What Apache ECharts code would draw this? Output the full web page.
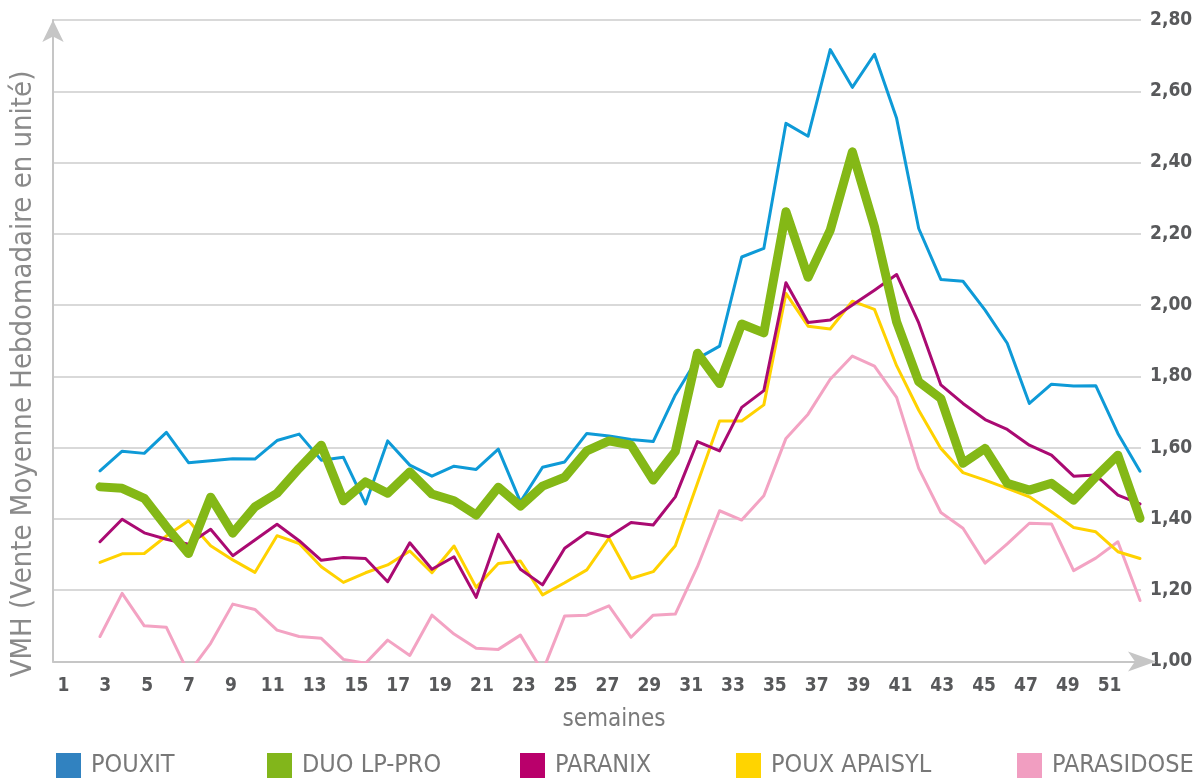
<!DOCTYPE html>
<html>
<head>
<meta charset="utf-8">
<script src="https://cdn.jsdelivr.net/npm/echarts@6.0.0/dist/echarts.min.js"></script>
<style>
    html, body { margin: 0; padding: 0; background: #fff; }
    #chart { width: 1197px; height: 782px; }
</style>
</head>
<body>
<div id="chart"></div>
<script>
    // graduations de l'axe des semaines
    var weekLabels = ['1','2','3','4','5','6','7','8','9','10','11','12','13','14','15','16','17','18','19','20',
        '21','22','23','24','25','26','27','28','29','30','31','32','33','34','35','36','37','38','39','40',
        '41','42','43','44','45','46','47','48','49','50','51','52'];
    // relevés (48 points)
    var pointWeeks = ['3','4','5','6','7','8','9','10','11','12','13','14','15','16','17','18','19','20','21','22',
        '23','24','25','26','27','28','29','30','31','32','33','34','35','36','37','38','39','40','41','42',
        '43','44','45','46','47','48','49','50'];

    var pouxit = [1.535, 1.590, 1.584, 1.643, 1.558, 1.563, 1.569, 1.568, 1.620, 1.638,
        1.565, 1.573, 1.442, 1.619, 1.551, 1.520, 1.548, 1.539, 1.596, 1.448,
        1.545, 1.560, 1.640, 1.633, 1.623, 1.617, 1.748, 1.850, 1.885, 2.135,
        2.159, 2.510, 2.474, 2.717, 2.611, 2.704, 2.524, 2.215, 2.072, 2.067,
        1.986, 1.893, 1.724, 1.778, 1.773, 1.774, 1.640, 1.534];
    var duoLpPro = [1.490, 1.486, 1.458, 1.378, 1.303, 1.461, 1.360, 1.434, 1.472, 1.542,
        1.607, 1.451, 1.504, 1.472, 1.532, 1.470, 1.451, 1.411, 1.489, 1.436,
        1.492, 1.517, 1.591, 1.619, 1.607, 1.509, 1.589, 1.865, 1.780, 1.947,
        1.922, 2.262, 2.078, 2.210, 2.430, 2.220, 1.953, 1.785, 1.738, 1.556,
        1.598, 1.500, 1.481, 1.500, 1.453, 1.518, 1.579, 1.402];
    var paranix = [1.336, 1.399, 1.361, 1.343, 1.329, 1.371, 1.297, 1.341, 1.385, 1.339,
        1.284, 1.292, 1.289, 1.224, 1.333, 1.259, 1.294, 1.180, 1.357, 1.259,
        1.215, 1.318, 1.362, 1.350, 1.390, 1.383, 1.462, 1.617, 1.591, 1.713,
        1.760, 2.063, 1.951, 1.958, 2.000, 2.042, 2.086, 1.950, 1.776, 1.724,
        1.679, 1.651, 1.607, 1.579, 1.520, 1.523, 1.467, 1.442];
    var pouxApaisyl = [1.278, 1.302, 1.303, 1.352, 1.395, 1.325, 1.285, 1.250, 1.353, 1.331,
        1.266, 1.222, 1.249, 1.271, 1.310, 1.249, 1.324, 1.208, 1.275, 1.282,
        1.187, 1.221, 1.257, 1.346, 1.233, 1.252, 1.325, 1.500, 1.675, 1.675,
        1.720, 2.033, 1.941, 1.933, 2.011, 1.988, 1.830, 1.705, 1.598, 1.530,
        1.509, 1.486, 1.462, 1.420, 1.376, 1.364, 1.308, 1.289];
    var parasidose = [1.070, 1.191, 1.100, 1.096, 0.967, 1.051, 1.161, 1.146, 1.088, 1.070,
        1.065, 1.006, 0.995, 1.060, 1.017, 1.130, 1.077, 1.037, 1.034, 1.074,
        0.972, 1.128, 1.130, 1.156, 1.068, 1.130, 1.133, 1.266, 1.423, 1.397,
        1.465, 1.626, 1.694, 1.792, 1.857, 1.829, 1.741, 1.542, 1.418, 1.374,
        1.276, 1.330, 1.388, 1.386, 1.255, 1.290, 1.336, 1.171];

    var FONT = "'Liberation Sans Narrow', 'DejaVu Sans Condensed', sans-serif";
    var AXIS_GREY = '#c6c6c6';

    function makeLine(name, data, lineColor, legendColor, width, z) {
        return {
            name: name,
            type: 'line',
            xAxisIndex: 1,
            yAxisIndex: 2,
            data: data,
            showSymbol: false,
            symbol: 'none',
            z: z,
            itemStyle: { color: legendColor },
            lineStyle: { color: lineColor, width: width, cap: 'round', join: 'round' },
            animation: false
        };
    }

    function makeLegend(name, left) {
        return {
            data: [name],
            left: left,
            top: 753,
            padding: 0,
            icon: 'rect',
            itemWidth: 25,
            itemHeight: 25,
            selectedMode: false,
            textStyle: { fontFamily: FONT, fontSize: 25, color: '#787878', padding: [3, 0, 0, 5] }
        };
    }

    var chart = echarts.init(document.getElementById('chart'));
    chart.setOption({
        backgroundColor: '#fff',
        grid: [
            { left: 53, right: 56, top: 20, bottom: 120.5 },
            { left: 100, right: 57, top: 20, bottom: 120.5 }
        ],
        xAxis: [{
            type: 'category',
            gridIndex: 0,
            data: weekLabels,
            boundaryGap: true,
            axisLine: {
                lineStyle: { color: AXIS_GREY, width: 2 },
                symbol: ['none', 'arrow'],
                symbolSize: [15, 28],
                symbolOffset: [0, 15]
            },
            axisTick: { interval: 0, length: 5, lineStyle: { color: AXIS_GREY, width: 1.5 } },
            axisLabel: {
                interval: 1, margin: 15,
                fontFamily: FONT, fontWeight: 'bold', fontSize: 19, color: '#58595b'
            },
            splitLine: { show: false },
            name: 'semaines',
            nameLocation: 'middle',
            nameGap: 46,
            nameTextStyle: { fontFamily: FONT, fontSize: 24, color: '#7a7a7a', padding: [0, 0, 0, 34] }
        }, {
            type: 'category',
            gridIndex: 1,
            data: pointWeeks,
            boundaryGap: false,
            show: false
        }],
        yAxis: [{
            type: 'value',
            gridIndex: 0,
            position: 'left',
            min: 1, max: 2.8, interval: 0.2,
            axisLine: {
                show: true,
                lineStyle: { color: AXIS_GREY, width: 2 },
                symbol: ['none', 'arrow'],
                symbolSize: [16, 22],
                symbolOffset: [0, 0]
            },
            axisTick: { show: false },
            axisLabel: { show: false },
            splitLine: { show: false }
        }, {
            type: 'value',
            gridIndex: 0,
            position: 'right',
            min: 1, max: 2.8, interval: 0.2,
            axisLine: { show: false },
            axisTick: { show: false },
            axisLabel: {
                margin: 9,
                fontFamily: FONT, fontWeight: 'bold', fontSize: 19, color: '#58595b',
                formatter: function (v) { return v.toFixed(2).replace('.', ','); }
            },
            splitLine: { lineStyle: { color: '#cccccc', width: 1.5 } }
        }, {
            type: 'value',
            gridIndex: 1,
            min: 1, max: 2.8,
            show: false,
            splitLine: { show: false }
        }],
        legend: [
            makeLegend('POUXIT', 56),
            makeLegend('DUO LP-PRO', 267),
            makeLegend('PARANIX', 520),
            makeLegend('POUX APAISYL', 736),
            makeLegend('PARASIDOSE', 1017)
        ],
        graphic: [{
            type: 'text',
            x: 23,
            y: 374,
            rotation: Math.PI / 2,
            style: {
                text: 'VMH (Vente Moyenne Hebdomadaire en unité)',
                fontFamily: FONT,
                fontSize: 29,
                fill: '#8a8a8a',
                align: 'center',
                verticalAlign: 'middle'
            }
        }],
        series: [
            makeLine('POUXIT', pouxit, '#0e9ad7', '#3182c0', 3, 3),
            makeLine('PARANIX', paranix, '#aa0a72', '#b9006b', 3, 4),
            makeLine('POUX APAISYL', pouxApaisyl, '#ffd200', '#ffd400', 3, 3),
            makeLine('PARASIDOSE', parasidose, '#f3a3c3', '#f19ec1', 3, 2),
            makeLine('DUO LP-PRO', duoLpPro, '#84b816', '#82b61b', 9, 5)
        ]
    });
</script>
</body>
</html>
